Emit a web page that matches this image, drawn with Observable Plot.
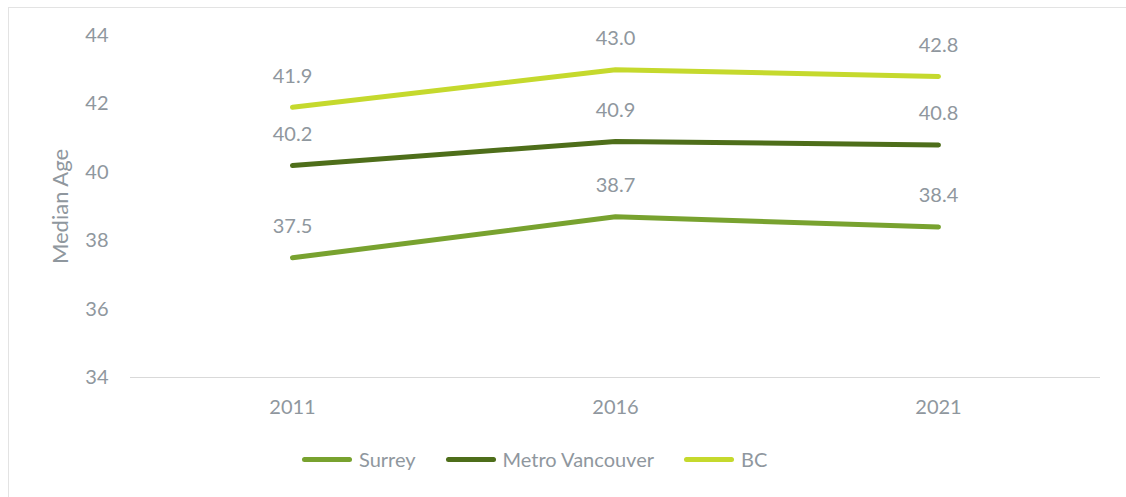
<!DOCTYPE html>
<html><head><meta charset="utf-8">
<script src="https://cdn.jsdelivr.net/npm/d3@7"></script>
<script src="https://cdn.jsdelivr.net/npm/@observablehq/plot@0.6"></script>
<style>
html,body{margin:0;padding:0;background:#fff;}
#wrap{position:relative;box-sizing:border-box;border-left:1.5px solid #e3e3e3;border-top:1.5px solid #e3e3e3;margin-left:8px;margin-top:7px;width:1118px;height:490px;}
#chart{position:absolute;left:-9.5px;top:-8.5px;}
#legend{position:absolute;left:293px;top:439px;display:flex;align-items:center;font-family:Lato,"Open Sans",sans-serif;font-size:20px;color:#8f979e;}
.item{display:flex;align-items:center;margin-right:30px;}
.sw{width:50px;height:5px;border-radius:3px;margin-right:7px;}
</style></head>
<body>
<div id="wrap"><div id="chart"></div><div id="legend"></div></div>
<script>
const years = ["2011", "2016", "2021"];
const seriesNames = ["Surrey", "Metro Vancouver", "BC"];
const surrey = [37.5, 38.7, 38.4];
const metro = [40.2, 40.9, 40.8];
const bc = [41.9, 43.0, 42.8];
const colors = ["#78a22f", "#4e6e1a", "#c5d92d"];
const yTicks = [34, 36, 38, 40, 42, 44];

const allValues = [surrey, metro, bc];
const data = [];
seriesNames.forEach((s, i) => years.forEach((y, j) => data.push({series: s, year: y, value: allValues[i][j]})));

const textColor = "#8f979e";
const chart = Plot.plot({
  width: 1126,
  height: 440,
  marginLeft: 130,
  marginRight: 26,
  marginTop: 35,
  marginBottom: 63,
  style: {fontFamily: "Lato, 'Open Sans', sans-serif", fontSize: "20px", color: textColor, background: "transparent"},
  x: {type: "point", domain: years, padding: 0.5, label: null},
  y: {domain: [34, 44], label: null},
  color: {domain: seriesNames, range: colors},
  marks: [
    Plot.ruleY([34], {stroke: "#d9d9d9", strokeWidth: 1.2}),
    Plot.axisY({ticks: yTicks, tickSize: 0, tickPadding: 22, label: null, fontSize: 20, tickFormat: d => String(d)}),
    Plot.text(["Median Age"], {frameAnchor: "left", dx: -70, rotate: -90, textAnchor: "middle", fontSize: 22, fill: textColor}),
    Plot.axisX({tickSize: 0, tickPadding: 22, label: null, fontSize: 20}),
    Plot.line(data, {x: "year", y: "value", z: "series", stroke: "series", strokeWidth: 5, strokeLinecap: "round", strokeLinejoin: "round"}),
    Plot.text(data, {x: "year", y: "value", text: d => d.value.toFixed(1), dy: -31, fill: textColor, fontSize: 20})
  ]
});
document.getElementById("chart").appendChild(chart);

const legend = document.getElementById("legend");
seriesNames.forEach((s, i) => {
  const it = document.createElement("div");
  it.className = "item";
  const sw = document.createElement("div");
  sw.className = "sw";
  sw.style.background = colors[i];
  const t = document.createElement("span");
  t.textContent = s;
  it.appendChild(sw); it.appendChild(t);
  legend.appendChild(it);
});
</script>
</body></html>
